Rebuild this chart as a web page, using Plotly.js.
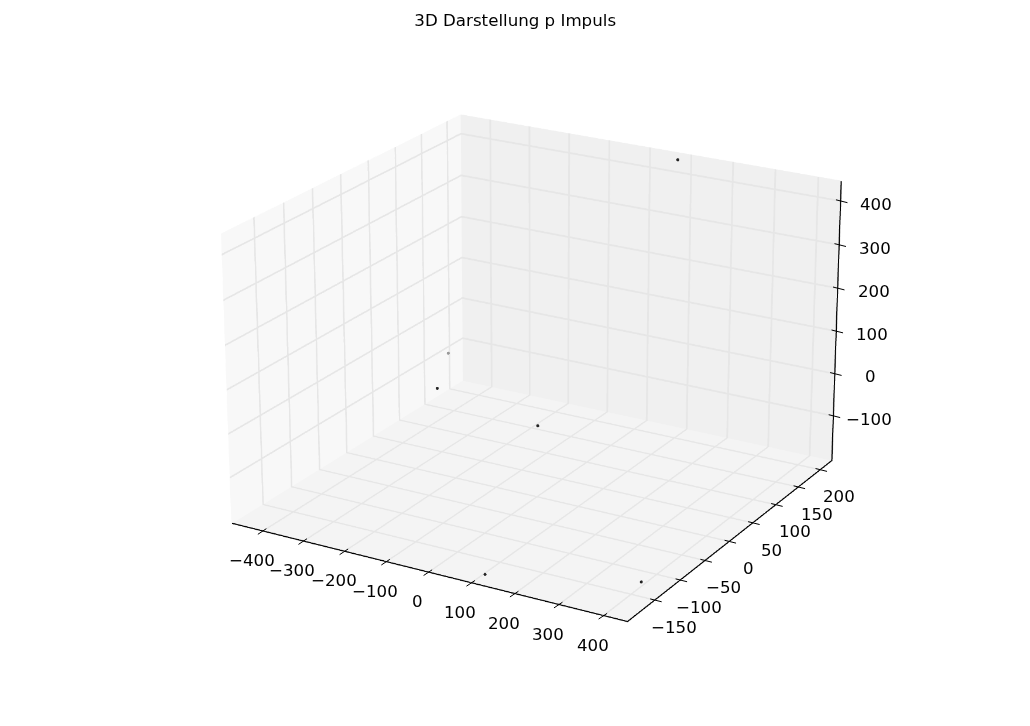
<!DOCTYPE html>
<html><head><meta charset="utf-8">
<script src="https://cdn.plot.ly/plotly-3.0.1.min.js"></script>
<style>html,body{margin:0;padding:0;background:#fff;overflow:hidden;width:1030px;height:726px}
#c{position:absolute;left:-1470px;top:-1064.5px;width:4017px;height:2831px}</style></head>
<body><div id="c"></div>
<script>
const xs=[83,-458,-326,-149,117,435];
const ys=[213,184,62,122,-191,-161];
const zs=[440,-102,-69,-169,-194,-161];
const colors=['#222','#999','#222','#222','#222','#222'];
const xt=[-400,-300,-200,-100,0,100,200,300,400];
const yt=[-150,-100,-50,0,50,100,150,200];
const zt=[-100,0,100,200,300,400];
const xr=[-476,455], yr=[-204,227], zr=[-207,446];
const F={family:'DejaVu Sans',size:16.67,color:'#000'};
const lab=v=>String(v).replace('-','\u2212');
function ax(t,r,bg){return {range:r,tickvals:t,showticklabels:false,showbackground:true,backgroundcolor:bg,gridcolor:'#e6e6e6',gridwidth:3,zeroline:false,showline:false,ticks:'',title:{text:''},showspikes:false};}
const ann=[];
function tick(x,y,z,dx,dy,tx,ty,t){
 ann.push({x,y,z,text:lab(t),showarrow:false,xshift:tx,yshift:-ty,font:F,xanchor:'center',yanchor:'middle'});
 ann.push({x,y,z,text:' ',showarrow:true,arrowhead:0,arrowwidth:1,arrowcolor:'#000',standoff:0,startstandoff:0,font:{size:1},borderpad:0,xshift:dx,yshift:-dy,ax:-2*dx,ay:-2*dy});
}
xt.forEach(t=>tick(t,yr[0],zr[0],4.5,-3,-10,29,t));
yt.forEach(t=>tick(xr[1],t,zr[0],6,1.5,18,27,t));
zt.forEach(t=>tick(xr[1],yr[1],t,6,1.5,35,3,t));
const e=1;
const axisX=[xr[0],xr[1],null,xr[1]-e,xr[1]-e,null,xr[1]-e,xr[1]-e];
const axisY=[yr[0]+e,yr[0]+e,null,yr[0],yr[1],null,yr[1]-e,yr[1]-e];
const axisZ=[zr[0]+e,zr[0]+e,null,zr[0]+e,zr[0]+e,null,zr[0],zr[1]];
Plotly.newPlot('c',[
 {type:'scatter3d',mode:'markers',x:xs,y:ys,z:zs,marker:{size:1.5,color:colors},hoverinfo:'skip'},
 {type:'scatter3d',mode:'lines',x:axisX,y:axisY,z:axisZ,line:{color:'#000',width:2},hoverinfo:'skip'}
],{
 width:4017,height:2831,margin:{l:0,r:0,t:0,b:0},paper_bgcolor:'#fff',showlegend:false,
 title:{text:'3D Darstellung p Impuls',x:0.4942,xanchor:'center',y:0.6169,yanchor:'middle',font:{family:'DejaVu Sans',size:16.67,color:'#000'}},
 scene:{domain:{x:[0,1],y:[0,1]},aspectmode:'manual',aspectratio:{x:1.467,y:1.454,z:1},
  camera:{eye:{x:5.21,y:-9.02,z:4.05},center:{x:0,y:0,z:0},up:{x:0,y:0,z:1},projection:{type:'perspective'}},
  xaxis:ax(xt,xr,'#f8f8f8'),yaxis:ax(yt,yr,'#f0f0f0'),zaxis:ax(zt,zr,'#f4f4f4'),annotations:ann}
},{displayModeBar:false});
</script></body></html>
